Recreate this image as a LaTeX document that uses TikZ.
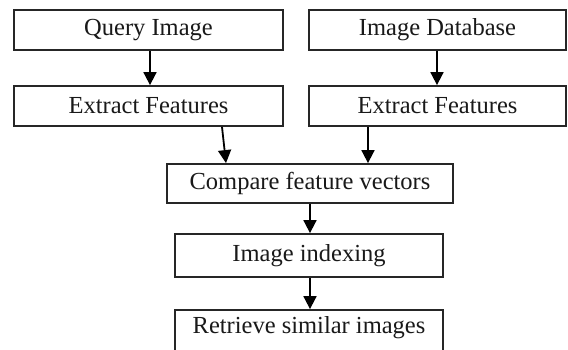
\documentclass[tikz,border=0pt]{standalone}
\usepackage{fontspec}
\setmainfont{Liberation Serif}
\usetikzlibrary{arrows.meta}
\begin{document}
\begin{tikzpicture}[x=1pt,y=-1pt,
  box/.style={draw=black!85, line width=1.8pt, inner sep=0pt, font=\fontsize{24.5}{28}\selectfont, text=black!90},
  arr/.style={draw=black, line width=1.8pt, -{Triangle[width=13pt,length=13pt]}}]
\useasboundingbox (0,0) rectangle (568,350);
\clip (0,0) rectangle (568,350);
\fill[white] (0,0) rectangle (568,350);
\node[box, minimum width=269pt, minimum height=40pt] (q) at (148.5,30) {Query Image};
\node[box, minimum width=269pt, minimum height=40pt] (e1) at (148.5,106) {Extract Features};
\node[box, minimum width=257pt, minimum height=40pt] (db) at (437.5,30) {Image Database};
\node[box, minimum width=257pt, minimum height=40pt] (e2) at (437.5,106) {Extract Features};
\node[box, minimum width=286pt, minimum height=39pt] (c) at (310,183.5) {Compare feature vectors};
\node[box, minimum width=268pt, minimum height=43pt] (ix) at (309,255.5) {Image indexing};
\node[box, minimum width=268pt, minimum height=46pt] (r) at (309,333) {};
\node[font=\fontsize{24.5}{28}\selectfont, text=black!90] (rt) at (309,328) {Retrieve similar images};
\coordinate (a1) at (222,0);
\coordinate (a2) at (226,0);
\coordinate (b1) at (368,0);
\coordinate (d1) at (437,0);
\coordinate (q1) at (150,0);
\coordinate (m) at (310,0);
\draw[arr] (q.south -| q1) -- (e1.north -| q1);
\draw[arr] (db.south -| d1) -- (e2.north -| d1);
\draw[arr] (e1.south -| a1) -- (c.north -| a2);
\draw[arr] (e2.south -| b1) -- (c.north -| b1);
\draw[arr] (c.south -| m) -- (ix.north -| m);
\draw[arr] (ix.south -| m) -- (r.north -| m);
\end{tikzpicture}
\end{document}
